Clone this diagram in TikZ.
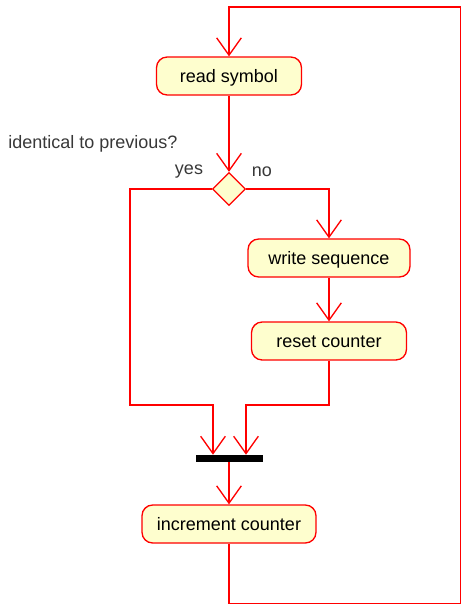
\documentclass[tikz,border=0pt]{standalone}
\usepackage{fontspec}
\setmainfont{Liberation Sans}
\usetikzlibrary{arrows.meta,shapes.geometric}
\definecolor{umlfill}{HTML}{FEFECE}

\begin{document}
\begin{tikzpicture}[x=0.75pt,y=-0.75pt,
     actnode/.style = {draw=red, fill=umlfill, line width=1pt, rounded corners=8pt,
                       minimum height=28.5pt, inner sep=0pt, text height=9.7pt, text depth=0pt,
                       font=\fontsize{13.5}{16}\selectfont},
     decnode/.style = {diamond, draw=red, fill=umlfill, line width=1pt, inner sep=0pt,
                       minimum width=24.75pt, minimum height=24.75pt},
     txtnode/.style = {text=black!78, inner sep=0pt, font=\fontsize{13.5}{16}\selectfont},
     flow/.style = {draw=red, line width=1pt, -{Straight Barb[length=13pt,width=18.5pt]}}]
     \useasboundingbox (0,0) rectangle (461,604);

     \node[actnode, minimum width=108.75pt] (read) at (229,76) {read symbol};
     \node[decnode] (dec) at (229,189) {};
     \node[txtnode, anchor=west] (question) at (8,144) {identical to previous?};
     \node[txtnode] (yes) at (189,172) {yes};
     \node[txtnode] (no) at (262,172) {no};
     \node[actnode, minimum width=121.5pt] (write) at (329,258) {write sequence};
     \node[actnode, minimum width=116.25pt] (reset) at (329,341) {reset counter};
     \node[fill=black, minimum width=50.25pt, minimum height=5.25pt, inner sep=0pt] (bar) at (229,458.5) {};
     \node[actnode, minimum width=130.5pt] (inc) at (229,524) {increment counter};

     \coordinate (yesturn) at (130,405);
     \coordinate (noturn) at (246,405);
     \coordinate (loopbottom) at (460.9,603.9);
     \coordinate (looptop) at (460.9,7);

     \draw[flow] (read) -- (dec);
     \draw[flow] (dec.west) -| (yesturn) -| ([xshift=-12pt]bar.north);
     \draw[flow] (dec.east) -| (write);
     \draw[flow] (write) -- (reset);
     \draw[flow] (reset.south) |- (noturn) -- ([xshift=12.75pt]bar.north);
     \draw[flow] (bar) -- (inc);
     \draw[flow] (inc.south) |- (loopbottom) -- (looptop) -| (read.north);
\end{tikzpicture}
\end{document}
